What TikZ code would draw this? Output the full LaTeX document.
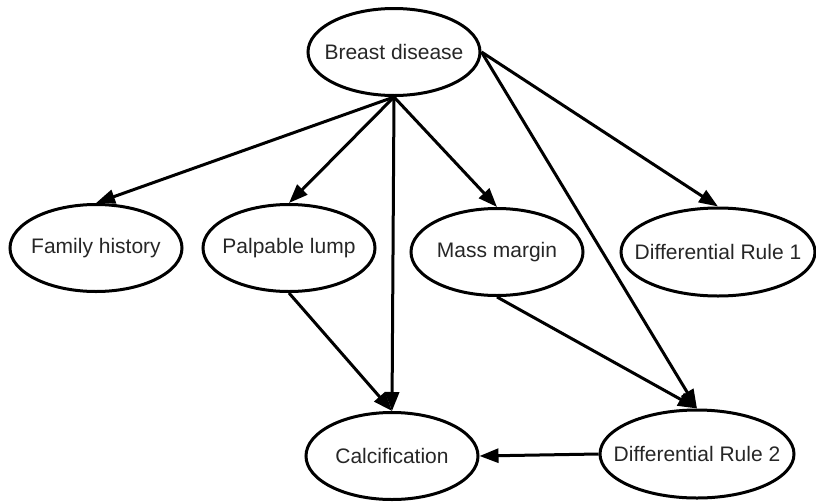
\documentclass[tikz,border=0pt]{standalone}
\usepackage{fontspec}
\setmainfont{Liberation Sans}
\usetikzlibrary{arrows.meta,shapes.geometric}
\definecolor{txt}{RGB}{38,38,38}
\tikzset{
  ell/.style={draw=black, line width=3pt, ellipse, inner sep=0pt,
    minimum width=172pt, minimum height=87pt, text=txt,
    font=\fontsize{21}{25}\selectfont},
  wide/.style={minimum width=194pt, minimum height=88pt},
  edge/.style={line width=3pt, -{Triangle[length=19pt,width=14pt]}, shorten >=0pt}
}
\newcommand{\ztext}[1]{\makebox[0pt][c]{#1}}
\begin{document}
\begin{tikzpicture}[x=1pt,y=1pt]
\useasboundingbox (0,0) rectangle (816,-501);
\node[ell] (bd) at (394,-52) {\ztext{Breast disease}};
\node[ell] (fh) at (96,-248) {\ztext{Family history}};
\node[ell] (pl) at (289,-248) {\ztext{Palpable lump}};
\node[ell] (mm) at (497,-252) {\ztext{Mass margin}};
\node[ell,wide] (dr1) at (718,-252) {\ztext{Differential Rule 1}};
\node[ell] (ca) at (392,-456) {\ztext{Calcification}};
\node[ell,wide] (dr2) at (697,-454) {\ztext{Differential Rule 2}};
\draw[edge] (bd.south) -- (fh.north);
\draw[edge] (bd.south) -- (pl.north);
\draw[edge] (bd.south) -- (mm.north);
\draw[edge] (bd.south) -- (ca.north);
\draw[edge] (bd.east) -- (dr1.north);
\draw[edge] (bd.east) -- (dr2.north);
\draw[edge] (pl.south) -- (ca.north);
\draw[edge] (mm.south) -- (dr2.north);
\draw[edge] (dr2.west) -- (ca.east);
\end{tikzpicture}
\end{document}
